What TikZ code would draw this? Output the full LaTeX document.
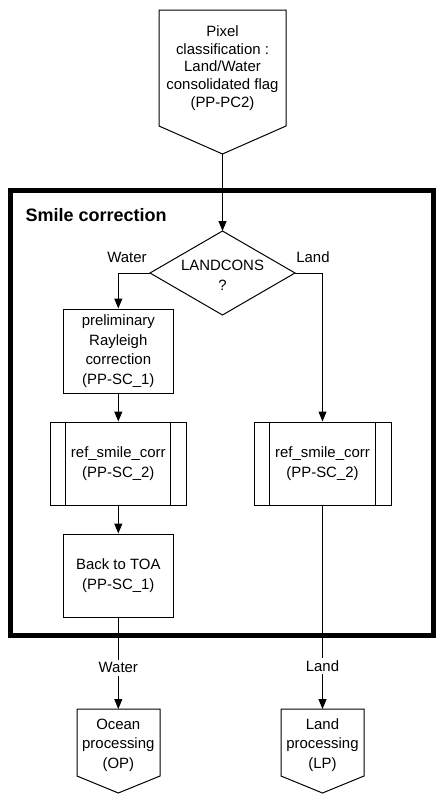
\documentclass[tikz,border=0pt]{standalone}
\usepackage{fontspec}
\setmainfont{Liberation Sans}
\usetikzlibrary{arrows.meta}
\newcommand\diagfont{\fontsize{11.2}{14.6}\selectfont}
\begin{document}
\begin{tikzpicture}[x=0.75pt,y=-0.75pt,
  line width=0.75pt,
  arr/.style={-{Triangle[length=7.5pt,width=6pt]}},
  box/.style={draw, minimum width=110*0.75pt, minimum height=84*0.75pt, inner sep=0pt, align=center, font=\diagfont},
  refbox/.style={draw, minimum width=136*0.75pt, minimum height=83*0.75pt, inner sep=0pt, align=center, font=\diagfont},
  txt/.style={inner sep=0pt, align=center, font=\diagfont},
  lbl/.style={font=\diagfont, fill=white, inner sep=2pt},
  frame/.style={line width=3.75pt}]
\useasboundingbox (0,0) rectangle (447,804);

% top pentagon
\draw (159,10) -- (286,10) -- (286,126) -- (222.5,154) -- (159,126) -- cycle;
\coordinate (pc2tip) at (222.5,154);
\node[txt, font=\fontsize{11.2}{13.3}\selectfont] (pc2) at (222.5,68) {Pixel\\classification :\\Land/Water\\consolidated flag\\(PP-PC2)};

% frame
\draw[frame] (10,190) rectangle (433,635);
\node[anchor=west, inner sep=0pt, font=\fontsize{13.5}{15}\selectfont\bfseries] (title) at (25,215) {Smile correction};

% decision diamond
\coordinate (dt) at (222.5,231);
\coordinate (dl) at (150,273);
\coordinate (dr) at (295,273);
\coordinate (db) at (222.5,315);
\draw (dt) -- (dr) -- (db) -- (dl) -- cycle;
\node[txt, font=\fontsize{11.2}{15}\selectfont] (dec) at (222.5,275) {LANDCONS\\?};

\node[txt] (wlab) at (127,257) {Water};
\node[txt] (llab) at (313,257) {Land};

% left column
\node[box] (pre) at (118.3,351) {preliminary\\Rayleigh\\correction\\(PP-SC\_1)};
\node[refbox] (rs1) at (118.3,463.5) {ref\_smile\_corr\\(PP-SC\_2)};
\draw ([xshift=16*0.75pt]rs1.north west) -- ([xshift=16*0.75pt]rs1.south west);
\draw ([xshift=-16*0.75pt]rs1.north east) -- ([xshift=-16*0.75pt]rs1.south east);
\node[box, minimum height=83*0.75pt] (toa) at (118.3,575.5) {Back to TOA\\(PP-SC\_1)};

% right column
\node[refbox, minimum width=137*0.75pt] (rs2) at (322.5,463.5) {ref\_smile\_corr\\(PP-SC\_2)};
\draw ([xshift=16*0.75pt]rs2.north west) -- ([xshift=16*0.75pt]rs2.south west);
\draw ([xshift=-16*0.75pt]rs2.north east) -- ([xshift=-16*0.75pt]rs2.south east);

% bottom pentagons
\draw (77,709) -- (160,709) -- (160,776) -- (118.3,793) -- (77,776) -- cycle;
\coordinate (optop) at (118.3,709);
\node[txt] (op) at (118.3,745) {Ocean\\processing\\(OP)};
\draw (281,709) -- (364,709) -- (364,776) -- (322.5,793) -- (281,776) -- cycle;
\coordinate (lptop) at (322.5,709);
\node[txt] (lp) at (322.5,745) {Land\\processing\\(LP)};

% connectors
\draw[arr] (pc2tip) -- (dt);
\draw[arr] (dl) -| (pre.north);
\draw[arr] (dr) -| (rs2.north);
\draw[arr] (pre) -- (rs1);
\draw[arr] (rs1) -- (toa);
\draw[arr] (toa) -- node[lbl, pos=0.55] (wlab2) {Water} (optop);
\draw[arr] (rs2) -- node[lbl, pos=0.79] (llab2) {Land} (lptop);
\end{tikzpicture}
\end{document}
